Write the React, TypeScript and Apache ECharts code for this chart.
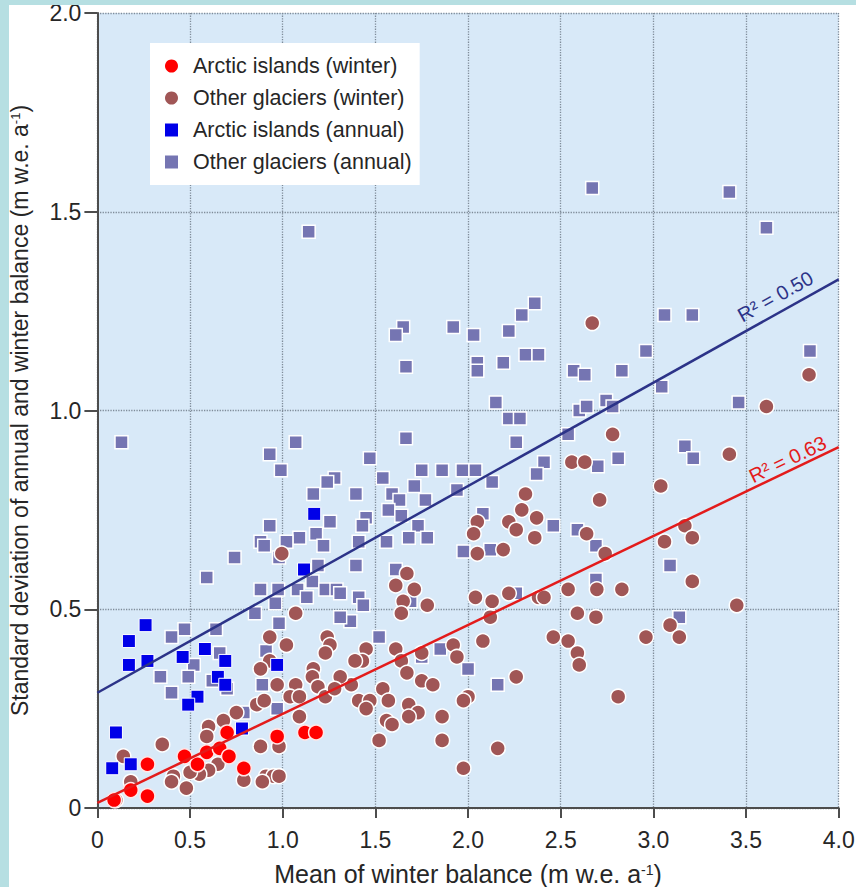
import React, { useEffect, useRef } from 'react';
import * as echarts from 'echarts';

const FONT = '"Liberation Sans", Arial, Helvetica, sans-serif';

// Axis ranges / ticks
const xMin = 0, xMax = 4, xStep = 0.5;
const yMin = 0, yMax = 2, yStep = 0.5;

// Series names
const seriesNames = [
  'Arctic islands (winter)',
  'Other glaciers (winter)',
  'Arctic islands (annual)',
  'Other glaciers (annual)',
];

// Arctic islands, mean winter balance vs SD of winter balance
const arcticWinter: number[][] = [
  [0.09, 0.02], [0.18, 0.045], [0.27, 0.03], [0.27, 0.11], [0.47, 0.13], [0.54, 0.11],
  [0.59, 0.14], [0.66, 0.15], [0.70, 0.19], [0.71, 0.13], [0.79, 0.10], [0.97, 0.18],
  [1.12, 0.19], [1.18, 0.19],
];

// Arctic islands, mean winter balance vs SD of annual balance
const arcticAnnual: number[][] = [
  [0.10, 0.19], [0.08, 0.10], [0.18, 0.11], [0.17, 0.42], [0.26, 0.46], [0.17, 0.36],
  [0.27, 0.37], [0.46, 0.38], [0.58, 0.40], [0.69, 0.37], [0.65, 0.33], [0.69, 0.31],
  [0.54, 0.28], [0.49, 0.26], [0.78, 0.20], [0.97, 0.36], [1.17, 0.74], [1.115, 0.60],
];

// Other glaciers, SD of winter balance
const otherWinter: number[][] = [
  [0.995, 0.64], [2.67, 1.22], [2.56, 0.87], [2.63, 0.87], [2.31, 0.79], [3.84, 1.09],
  [3.61, 1.01], [2.78, 0.94], [3.41, 0.89], [3.04, 0.81], [2.71, 0.775],
  [2.29, 0.75], [2.22, 0.72], [2.26, 0.70], [2.37, 0.73], [2.36, 0.68], [2.05, 0.72],
  [2.03, 0.69], [2.05, 0.64], [2.19, 0.65], [2.64, 0.69], [1.67, 0.59], [1.61, 0.56],
  [1.71, 0.55], [1.65, 0.52], [1.64, 0.49], [1.78, 0.51], [2.04, 0.53], [2.13, 0.52],
  [2.12, 0.48], [2.22, 0.54], [2.38, 0.53], [2.41, 0.53], [2.54, 0.55], [2.59, 0.49],
  [2.695, 0.55], [2.69, 0.48], [2.08, 0.42], [2.46, 0.43], [2.54, 0.42], [2.59, 0.39],
  [2.60, 0.36], [2.26, 0.33], [1.45, 0.40], [1.43, 0.37], [1.39, 0.37], [1.61, 0.40],
  [1.64, 0.37], [1.75, 0.39], [1.92, 0.41], [1.94, 0.38], [1.67, 0.34], [1.75, 0.32],
  [1.81, 0.31], [1.37, 0.31], [1.31, 0.33], [1.54, 0.30], [1.57, 0.27], [1.41, 0.27],
  [1.47, 0.27], [1.45, 0.25], [1.68, 0.26], [1.73, 0.24], [1.68, 0.23], [1.56, 0.22],
  [1.59, 0.21], [1.86, 0.23], [2.00, 0.28], [1.975, 0.27], [1.52, 0.17], [1.86, 0.17],
  [2.16, 0.15], [1.975, 0.10],
  [2.74, 0.64], [3.06, 0.67], [3.17, 0.71], [3.21, 0.68], [2.83, 0.55], [3.21, 0.57],
  [3.45, 0.51], [2.96, 0.43], [3.09, 0.46], [3.14, 0.43], [2.81, 0.28],
  [1.07, 0.49], [0.93, 0.43], [1.02, 0.41], [1.24, 0.43], [1.255, 0.41], [1.23, 0.39],
  [0.93, 0.37], [0.88, 0.35], [0.97, 0.31], [1.07, 0.31], [1.165, 0.35], [1.16, 0.33],
  [1.19, 0.305], [1.23, 0.28], [1.28, 0.30], [1.04, 0.28], [1.09, 0.28], [1.09, 0.23],
  [0.86, 0.26], [0.90, 0.27], [0.75, 0.24], [0.68, 0.22], [0.60, 0.205], [0.59, 0.18],
  [0.35, 0.16], [0.14, 0.13], [0.65, 0.11], [0.60, 0.095], [0.55, 0.085], [0.50, 0.09],
  [0.41, 0.08], [0.40, 0.066], [0.48, 0.05], [0.79, 0.07], [0.88, 0.155], [0.98, 0.155],
  [0.91, 0.08], [0.95, 0.08], [0.98, 0.08], [0.89, 0.066], [0.18, 0.066], [0.10, 0.02],
];

// Other glaciers, SD of annual balance
const otherAnnual: number[][] = [
  [1.14, 1.45], [0.13, 0.92], [1.07, 0.92], [0.93, 0.89], [0.99, 0.85], [1.28, 0.83],
  [1.24, 0.82], [1.165, 0.79], [1.255, 0.72], [0.93, 0.71], [1.18, 0.69], [1.09, 0.68],
  [1.02, 0.67], [0.88, 0.67], [0.90, 0.66], [1.22, 0.66], [0.74, 0.63], [0.98, 0.63],
  [1.19, 0.61], [0.59, 0.58], [1.16, 0.57], [0.88, 0.55], [0.975, 0.55], [1.08, 0.55],
  [1.23, 0.55], [1.29, 0.55],
  [0.47, 0.45], [0.40, 0.43], [0.64, 0.45], [0.52, 0.36], [0.34, 0.33], [0.49, 0.33],
  [0.40, 0.29], [0.66, 0.39], [0.62, 0.32], [0.70, 0.30], [0.96, 0.515], [1.13, 0.53],
  [0.85, 0.49], [0.98, 0.465], [0.91, 0.395], [0.89, 0.31], [0.97, 0.25], [0.79, 0.24],
  [2.67, 1.56], [2.36, 1.27], [2.29, 1.24], [2.22, 1.20], [2.03, 1.19], [1.92, 1.21],
  [1.65, 1.21], [1.61, 1.19], [1.665, 1.11], [2.05, 1.12], [2.05, 1.10], [2.19, 1.12],
  [2.31, 1.14], [2.38, 1.14], [2.57, 1.10], [2.63, 1.09], [2.15, 1.02], [2.22, 0.98],
  [2.28, 0.98], [2.60, 1.00], [2.64, 1.01], [2.54, 0.94], [2.26, 0.92], [1.665, 0.93],
  [1.47, 0.88], [1.54, 0.83], [1.75, 0.85], [1.86, 0.85], [1.97, 0.85], [2.04, 0.85],
  [1.71, 0.81], [1.94, 0.80], [2.13, 0.82], [2.41, 0.87], [2.37, 0.84], [1.395, 0.79],
  [1.59, 0.79], [1.63, 0.775], [1.77, 0.775], [2.70, 0.86],
  [3.41, 1.55], [3.61, 1.46], [3.06, 1.24], [3.21, 1.24], [2.96, 1.15], [2.83, 1.10],
  [3.845, 1.15], [3.045, 1.06], [3.46, 1.02], [2.745, 1.025], [2.78, 1.01], [3.17, 0.91],
  [3.215, 0.88], [2.81, 0.88],
  [1.45, 0.73], [1.43, 0.71], [1.57, 0.75], [1.64, 0.735], [1.73, 0.71], [1.41, 0.67],
  [1.56, 0.67], [1.68, 0.68], [1.78, 0.68], [2.08, 0.74], [2.46, 0.71], [2.59, 0.70],
  [2.69, 0.66], [1.975, 0.645], [2.12, 0.65], [1.395, 0.61], [1.61, 0.60], [1.41, 0.53],
  [1.435, 0.51], [1.31, 0.54], [1.365, 0.47], [1.31, 0.48], [1.52, 0.43], [1.69, 0.52],
  [2.26, 0.54], [2.69, 0.575], [1.85, 0.40], [1.75, 0.38], [2.00, 0.35], [2.16, 0.31],
  [3.09, 0.61], [3.14, 0.48],
];

// Regression lines (end points) and their labels
const fitAnnual: number[][] = [[0, 0.29], [4, 1.33]];
const fitWinter: number[][] = [[0, 0.013], [4, 0.908]];
const fitLabels = ['R\u00B2 = 0.50', 'R\u00B2 = 0.63'];

const COL_ARCTIC_W = '#ff0000';
const COL_OTHER_W = '#a05656';
const COL_ARCTIC_A = '#0000e8';
const COL_OTHER_A = '#7575b2';
const COL_FIT_A = '#2c3388';
const COL_FIT_W = '#e31b1b';
const AXIS_COL = '#4d4d4d';
const TEXT_COL = '#262626';
const FRAME_COL = '#b6dfe2';

const tickFmt = (v: number) => (v === 0 ? '0' : v.toFixed(1));

export default function App() {
  const ref = useRef<HTMLDivElement>(null);

  useEffect(() => {
    if (!ref.current) return;
    const chart = echarts.init(ref.current, undefined, { renderer: 'svg' });

    const richY = {
      a: { fontSize: 23, fontFamily: FONT, color: TEXT_COL, lineHeight: 22 },
      s: { fontSize: 13, fontFamily: FONT, color: TEXT_COL, lineHeight: 13, verticalAlign: 'top' as const },
    };
    const richX = {
      a: { fontSize: 25, fontFamily: FONT, color: TEXT_COL, lineHeight: 22 },
      s: { fontSize: 14, fontFamily: FONT, color: TEXT_COL, lineHeight: 12, verticalAlign: 'top' as const },
    };

    const option: any = {
      animation: false,
      backgroundColor: '#ffffff',
      textStyle: { fontFamily: FONT },
      grid: {
        left: 97.4, right: 17.3, top: 13, bottom: 79,
        outerBoundsMode: 'none',
        containLabel: false,
        show: true, backgroundColor: '#d8e9f8', borderWidth: 0,
      },
      legend: {
        orient: 'vertical',
        left: 150, top: 43,
        backgroundColor: '#ffffff',
        padding: [12, 8, 12, 15],
        itemWidth: 13, itemHeight: 13, itemGap: 10,
        textStyle: { fontSize: 21.5, fontFamily: FONT, color: TEXT_COL, lineHeight: 21, padding: [0, 0, 0, 10] },
        data: [
          { name: seriesNames[0], icon: 'circle', itemStyle: { borderWidth: 0 } },
          { name: seriesNames[1], icon: 'circle', itemStyle: { borderWidth: 0 } },
          { name: seriesNames[2], icon: 'rect', itemStyle: { borderWidth: 0 } },
          { name: seriesNames[3], icon: 'rect', itemStyle: { borderWidth: 0 } },
        ],
        selectedMode: false,
      },
      xAxis: {
        type: 'value', min: xMin, max: xMax, interval: xStep,
        name: '{a|Mean of winter balance (m w.e. a}{s|-1}{a|)}',
        nameLocation: 'middle', nameGap: 55,
        nameTextStyle: { rich: richX },
        axisLine: { show: true, onZero: false, lineStyle: { color: AXIS_COL, width: 2 } },
        axisTick: { show: true, length: 10, lineStyle: { color: AXIS_COL, width: 2 } },
        axisLabel: { formatter: tickFmt, fontSize: 23, color: TEXT_COL, margin: 20, fontFamily: FONT },
        splitLine: { show: true, lineStyle: { color: '#7f8c99', type: 'dotted', width: 1.3 } },
      },
      yAxis: {
        type: 'value', min: yMin, max: yMax, interval: yStep,
        name: '{a|Standard deviation of annual and winter balance (m w.e. a}{s|-1}{a|)}',
        nameLocation: 'middle', nameGap: 66, nameRotate: 90,
        nameTextStyle: { rich: richY },
        axisLine: { show: true, onZero: false, lineStyle: { color: AXIS_COL, width: 2 } },
        axisTick: { show: true, length: 13, lineStyle: { color: AXIS_COL, width: 2 } },
        axisLabel: { formatter: tickFmt, fontSize: 23, lineHeight: 18, color: TEXT_COL, margin: 16, fontFamily: FONT },
        splitLine: { show: true, lineStyle: { color: '#7f8c99', type: 'dotted', width: 1.3 } },
      },
      series: [
        {
          type: 'scatter', name: seriesNames[3], data: otherAnnual, symbol: 'rect', symbolSize: 13,
          itemStyle: { color: COL_OTHER_A, borderColor: '#ffffff', borderWidth: 1.5, opacity: 1 }, z: 2,
        },
        {
          type: 'scatter', name: seriesNames[1], data: otherWinter, symbol: 'circle', symbolSize: 15,
          itemStyle: { color: COL_OTHER_W, borderColor: '#ffffff', borderWidth: 1.5, opacity: 1 }, z: 3,
        },
        {
          type: 'scatter', name: seriesNames[0], data: arcticWinter, symbol: 'circle', symbolSize: 15,
          itemStyle: { color: COL_ARCTIC_W, borderColor: '#ffe6e6', borderWidth: 1.5, opacity: 1 }, z: 4,
        },
        {
          type: 'scatter', name: seriesNames[2], data: arcticAnnual, symbol: 'rect', symbolSize: 13,
          itemStyle: { color: COL_ARCTIC_A, borderColor: '#ffffff', borderWidth: 1, opacity: 1 }, z: 5,
        },
        {
          type: 'line', name: 'fitAnnual', data: fitAnnual, showSymbol: false, symbol: 'none', silent: true,
          lineStyle: { color: COL_FIT_A, width: 2.5 }, z: 6,
        },
        {
          type: 'line', name: 'fitWinter', data: fitWinter, showSymbol: false, symbol: 'none', silent: true,
          lineStyle: { color: COL_FIT_W, width: 2.5 }, z: 6,
        },
      ],
    };

    chart.setOption(option);

    // place R² labels along each fit line
    const lab = (fit: number[][], ax: number, off: number, text: string, color: string) => {
      const [x0, y0] = fit[0];
      const [x1, y1] = fit[1];
      const yAt = y0 + ((y1 - y0) * (ax - x0)) / (x1 - x0);
      const p0 = chart.convertToPixel({ gridIndex: 0 }, [x0, y0]) as number[];
      const p1 = chart.convertToPixel({ gridIndex: 0 }, [x1, y1]) as number[];
      const p = chart.convertToPixel({ gridIndex: 0 }, [ax, yAt]) as number[];
      const ang = Math.atan2(-(p1[1] - p0[1]), p1[0] - p0[0]);
      return {
        type: 'text',
        x: p[0] - off * Math.sin(ang),
        y: p[1] - off * Math.cos(ang),
        rotation: ang,
        style: {
          text, fill: color, font: `20px ${FONT}`,
          align: 'center', verticalAlign: 'middle',
        },
        z: 10,
      };
    };

    chart.setOption({
      graphic: [
        lab(fitAnnual, 3.70, 16, fitLabels[0], COL_FIT_A),
        lab(fitWinter, 3.75, 11, fitLabels[1], COL_FIT_W),
        // decorative cyan frame at the top and left edges
        { type: 'rect', shape: { x: 0, y: 0, width: 856, height: 5 }, style: { fill: FRAME_COL }, z: 20, silent: true },
        { type: 'rect', shape: { x: 0, y: 0, width: 9, height: 887 }, style: { fill: FRAME_COL }, z: 20, silent: true },
      ],
    });

    return () => chart.dispose();
  }, []);

  return (
    <div
      ref={ref}
      style={{ position: 'fixed', left: 0, top: 0, width: 856, height: 887, background: '#ffffff' }}
    />
  );
}
